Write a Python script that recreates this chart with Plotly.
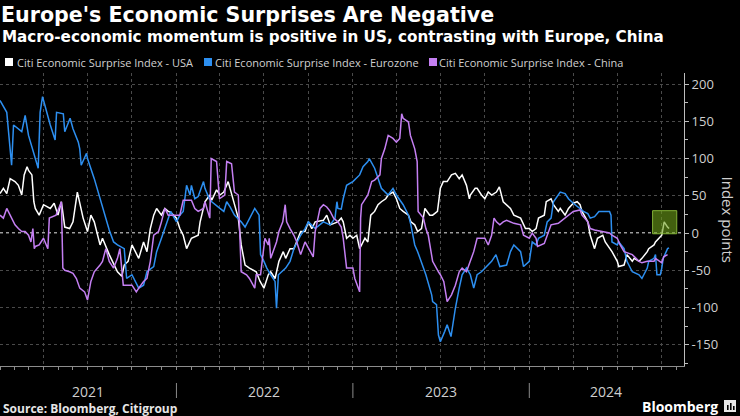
import plotly.graph_objects as go

# ---------------- data ----------------
usa_dates = [
    "2021-01-01","2021-01-08","2021-01-15","2021-01-22","2021-02-01","2021-02-08","2021-02-15","2021-02-20",
    "2021-02-26","2021-03-01","2021-03-08","2021-03-12","2021-03-15","2021-03-23","2021-04-01","2021-04-15",
    "2021-04-23","2021-05-01","2021-05-08","2021-05-15","2021-05-25","2021-06-01","2021-06-10","2021-06-15",
    "2021-06-22","2021-07-01","2021-07-08","2021-07-15","2021-07-27","2021-08-01","2021-08-15","2021-09-01",
    "2021-09-10","2021-09-15","2021-09-23","2021-10-01","2021-10-15","2021-10-25","2021-11-01","2021-11-08",
    "2021-11-15","2021-11-21","2021-12-01","2021-12-08","2021-12-15","2021-12-20","2022-01-01","2022-01-08",
    "2022-01-15","2022-01-22","2022-02-01","2022-02-15","2022-02-19","2022-03-01","2022-03-11","2022-03-15",
    "2022-03-25","2022-04-01","2022-04-09","2022-04-18","2022-05-01","2022-05-09","2022-05-15","2022-05-23",
    "2022-06-01","2022-06-15","2022-06-23","2022-07-01","2022-07-10","2022-07-15","2022-07-24","2022-08-01",
    "2022-08-10","2022-08-15","2022-08-24","2022-09-01","2022-09-15","2022-09-24","2022-10-01","2022-10-08",
    "2022-10-15","2022-11-01","2022-11-08","2022-11-15","2022-12-01","2022-12-08","2022-12-12","2022-12-19",
    "2022-12-26","2023-01-01","2023-01-09","2023-01-15","2023-01-19","2023-01-26","2023-02-01","2023-02-07",
    "2023-02-15","2023-02-22","2023-03-01","2023-03-10","2023-03-15","2023-03-25","2023-04-01","2023-04-08",
    "2023-04-15","2023-04-26","2023-05-01","2023-05-09","2023-05-15","2023-05-23","2023-05-30","2023-06-09",
    "2023-06-15","2023-06-25","2023-07-01","2023-07-07","2023-07-15","2023-07-24","2023-08-01","2023-08-09",
    "2023-08-15","2023-08-24","2023-08-30","2023-09-01","2023-09-11","2023-09-15","2023-09-24","2023-10-01",
    "2023-10-08","2023-10-15","2023-10-25","2023-10-31","2023-11-08","2023-11-15","2023-11-23","2023-11-30",
    "2023-12-14","2023-12-24","2024-01-01","2024-01-07","2024-01-15","2024-01-20","2024-02-01","2024-02-05",
    "2024-02-15","2024-02-20","2024-03-01","2024-03-05","2024-03-15","2024-03-22","2024-04-01","2024-04-09",
    "2024-04-15","2024-04-19","2024-05-01","2024-05-06","2024-05-15","2024-05-21","2024-06-01","2024-06-06",
    "2024-06-15","2024-06-20","2024-07-01","2024-07-04","2024-07-15","2024-07-21","2024-08-01","2024-08-05",
    "2024-08-15","2024-08-21","2024-09-01","2024-09-04","2024-09-15","2024-09-18","2024-10-01","2024-10-06",
    "2024-10-13","2024-10-16",
]
usa_vals = [
    53, 60, 53, 73, 69, 64, 51, 78,
    89, 84, 78, 42, 33, 24, 38, 33,
    40, 24, 42, 8, 6, 15, 55, 42,
    20, 2, 24, 15, -16, -7, -29, -52,
    -58, -43, -38, -16, -34, -12, -25, 6,
    24, 33, 24, 33, 29, 28, 20, 6,
    -3, -21, -7, -3, 15, 42, 51, 44,
    58, 51, 55, 69, 38, 20, -16, -43,
    -47, -52, -65, -74, -56, -52, -61, -38,
    -25, -34, -21, -21, 2, 2, 15, 6,
    15, 17, 24, 11, 15, 20, 15, -7,
    -3, -7, -3, -21, -16, -7, -12, 24,
    29, 38, 42, 46, 51, 55, 46, 33,
    29, 24, 15, 11, 2, 6, 33, 24,
    24, 29, 60, 69, 69, 78, 80, 73,
    78, 64, 46, 51, 60, 60, 51, 46,
    55, 51, 55, 62, 42, 38, 33, 24,
    20, 6, 6, 2, 6, 20, 24, 42,
    46, 38, 29, 33, 24, 33, 40, 42,
    38, 29, 15, -3, -21, -7, -3, -12,
    -21, -25, -38, -45, -43, -29, -38, -34,
    -38, -34, -25, -21, -16, -12, -3, 15,
    8, 6,
]

ez_dates = [
    "2021-01-01","2021-01-15","2021-01-25","2021-01-29","2021-02-15","2021-02-22","2021-03-01","2021-03-11",
    "2021-03-21","2021-03-25","2021-03-30","2021-04-15","2021-04-25","2021-04-28","2021-05-12","2021-05-15",
    "2021-05-26","2021-06-01","2021-06-12","2021-06-15","2021-06-18","2021-06-29","2021-07-01","2021-07-15",
    "2021-07-27","2021-08-01","2021-08-10","2021-08-15","2021-08-24","2021-09-01","2021-09-15","2021-09-20",
    "2021-10-01","2021-10-15","2021-10-25","2021-11-01","2021-11-15","2021-11-21","2021-12-01","2021-12-15",
    "2021-12-20","2022-01-01","2022-01-08","2022-01-15","2022-01-22","2022-01-29","2022-02-01","2022-02-08",
    "2022-02-15","2022-02-26","2022-03-01","2022-03-10","2022-03-15","2022-04-01","2022-04-09","2022-04-15",
    "2022-04-22","2022-05-01","2022-05-15","2022-05-23","2022-06-01","2022-06-12","2022-06-21","2022-06-24",
    "2022-07-01","2022-07-07","2022-07-15","2022-07-24","2022-07-27","2022-07-31","2022-08-15","2022-08-24",
    "2022-09-01","2022-09-15","2022-09-24","2022-10-01","2022-10-15","2022-10-25","2022-11-01","2022-11-15",
    "2022-11-25","2022-11-29","2022-12-01","2022-12-08","2022-12-12","2022-12-19","2023-01-01","2023-01-15",
    "2023-01-22","2023-02-01","2023-02-04","2023-02-15","2023-02-22","2023-03-01","2023-03-15","2023-03-25",
    "2023-04-01","2023-04-15","2023-04-26","2023-05-01","2023-05-09","2023-05-15","2023-06-01","2023-06-13",
    "2023-06-15","2023-06-23","2023-06-27","2023-07-01","2023-07-10","2023-07-15","2023-07-23","2023-08-01",
    "2023-08-09","2023-08-15","2023-08-24","2023-09-01","2023-09-08","2023-09-15","2023-09-24","2023-10-01",
    "2023-10-08","2023-10-15","2023-10-24","2023-11-01","2023-11-15","2023-11-23","2023-11-30","2023-12-14",
    "2023-12-20","2024-01-01","2024-01-07","2024-01-15","2024-01-20","2024-02-01","2024-02-07","2024-02-15",
    "2024-02-20","2024-03-01","2024-03-05","2024-03-15","2024-03-22","2024-04-01","2024-04-15","2024-04-22",
    "2024-05-01","2024-05-06","2024-05-15","2024-05-24","2024-06-15","2024-06-18","2024-06-20","2024-07-01",
    "2024-07-04","2024-07-15","2024-07-21","2024-08-01","2024-08-15","2024-08-21","2024-09-01","2024-09-04",
    "2024-09-15","2024-09-18","2024-09-21","2024-09-28","2024-10-01","2024-10-04","2024-10-13","2024-10-16",
]
ez_vals = [
    178, 162, 91, 145, 136, 158, 131, 109,
    87, 162, 183, 145, 125, 162, 160, 136,
    154, 140, 122, 113, 91, 107, 100, 73,
    46, 33, 15, 4, -12, -16, -21, -61,
    -56, -74, -70, -52, -45, -25, -7, 20,
    29, 15, 24, 29, 64, 51, 64, 46,
    49, 69, 60, 46, 42, 33, 29, 42,
    35, 24, 15, 8, 20, 33, 24, -29,
    -38, -47, -56, -65, -101, -56, -47, -38,
    -21, -3, 6, 15, 6, 11, 15, 11,
    20, 42, 33, 32, 46, 64, 69, 78,
    89, 96, 100, 87, 73, 60, 51, 60,
    51, 38, 24, 11, -16, -25, -56, -83,
    -92, -96, -137, -146, -132, -123, -139, -101,
    -74, -56, -47, -56, -74, -56, -52, -47,
    -43, -38, -29, -45, -43, -25, -16, -25,
    -45, -38, -12, -16, -7, -3, 15, 20,
    42, 51, 55, 53, 46, 40, 33, 29,
    26, 20, 22, 29, 29, 24, -12, -16,
    -12, -21, -38, -52, -56, -61, -47, -38,
    -34, -29, -56, -56, -47, -34, -21, -20,
]

cn_dates = [
    "2021-01-01","2021-01-08","2021-01-15","2021-01-22","2021-02-01","2021-02-08","2021-02-15","2021-02-22",
    "2021-03-01","2021-03-06","2021-03-10","2021-03-13","2021-03-15","2021-03-23","2021-04-01","2021-04-10",
    "2021-04-13","2021-04-27","2021-05-08","2021-05-11","2021-05-15","2021-05-25","2021-06-01","2021-06-08",
    "2021-06-15","2021-06-25","2021-07-01","2021-07-08","2021-07-15","2021-07-27","2021-08-01","2021-08-08",
    "2021-08-15","2021-08-24","2021-09-01","2021-09-06","2021-09-13","2021-10-01","2021-10-10","2021-10-15",
    "2021-10-25","2021-11-01","2021-11-08","2021-11-15","2021-11-25","2021-12-01","2021-12-08","2021-12-15",
    "2022-01-08","2022-01-15","2022-02-01","2022-02-08","2022-02-15","2022-02-26","2022-03-01","2022-03-11",
    "2022-03-14","2022-03-25","2022-03-31","2022-04-11","2022-04-15","2022-04-25","2022-05-01","2022-05-09",
    "2022-05-15","2022-05-26","2022-06-01","2022-06-12","2022-06-15","2022-06-24","2022-07-03","2022-07-10",
    "2022-07-12","2022-07-15","2022-07-27","2022-08-01","2022-08-09","2022-08-14","2022-08-17","2022-08-24",
    "2022-09-01","2022-09-07","2022-09-15","2022-09-24","2022-10-01","2022-10-11","2022-10-15","2022-10-25",
    "2022-11-01","2022-11-08","2022-11-15","2022-11-22","2022-12-01","2022-12-08","2022-12-12","2022-12-19",
    "2023-01-01","2023-01-05","2023-01-15","2023-01-17","2023-01-19","2023-02-01","2023-02-09","2023-02-15",
    "2023-02-26","2023-03-01","2023-03-08","2023-03-15","2023-03-25","2023-04-01","2023-04-08","2023-04-12",
    "2023-04-15","2023-04-26","2023-04-30","2023-05-09","2023-05-14","2023-05-16","2023-05-27","2023-06-01",
    "2023-06-06","2023-06-15","2023-06-27","2023-07-01","2023-07-08","2023-07-15","2023-07-24","2023-08-01",
    "2023-08-09","2023-08-15","2023-08-24","2023-09-01","2023-09-08","2023-09-15","2023-10-01","2023-10-08",
    "2023-10-15","2023-10-20","2023-10-25","2023-11-01","2023-11-08","2023-11-15","2023-11-23","2023-11-30",
    "2023-12-14","2023-12-20","2024-01-01","2024-01-07","2024-01-15","2024-01-18","2024-02-01","2024-02-07",
    "2024-02-15","2024-03-01","2024-03-05","2024-03-15","2024-03-22","2024-04-01","2024-04-15","2024-04-19",
    "2024-05-01","2024-05-06","2024-05-15","2024-06-01","2024-06-15","2024-06-20","2024-07-01","2024-07-07",
    "2024-07-15","2024-08-01","2024-08-15","2024-08-21","2024-09-01","2024-09-15","2024-09-18","2024-10-01",
    "2024-10-05","2024-10-13",
]
cn_vals = [
    24, 20, 33, 24, 11, 6, 2, 2,
    -3, -12, 6, -21, -18, -16, -7, -21,
    20, 24, 42, -47, -50, -52, -54, -61,
    -74, -79, -90, -65, -52, -43, -38, -21,
    -38, -47, -34, -21, -70, -70, -79, -74,
    -65, -61, -38, -3, 2, 15, 33, 24,
    24, 44, 44, 33, 29, 33, 42, 20,
    100, 96, 46, 51, 96, 93, 55, 51,
    -52, -56, -61, -74, -56, -56, -7, -16,
    -7, -34, -12, 2, 15, 38, 15, 6,
    -3, -12, -29, -12, -21, -32, 2, 33,
    38, 35, 29, 20, 15, 8, -7, -47,
    -47, -61, -79, 20, 38, 51, 69, 71,
    78, 100, 113, 131, 127, 122, 127, 160,
    154, 149, 131, 113, 96, 29, 20, 6,
    -3, -38, -52, -56, -65, -92, -83, -70,
    -52, -47, -52, -38, -25, -7, -7, -16,
    -3, 20, 15, 11, 15, 17, 15, 13,
    11, -3, -7, 0, -7, -18, -14, -3,
    11, 13, 15, 20, 24, 29, 31, 24,
    15, 6, 4, 2, 0, -3, -7, -16,
    -25, -29, -38, -40, -38, -38, -34, -40,
    -32, -29,
]

series_names = [
    "Citi Economic Surprise Index - USA",
    "Citi Economic Surprise Index - Eurozone",
    "Citi Economic Surprise Index - China",
]
series_colors = ["#ffffff", "#2d8ff0", "#c47ff2"]

x_range = ["2021-01-01", "2024-11-16"]
y_range = [-178.5, 214.8]
y_tickvals = [-150, -100, -50, 0, 50, 100, 150, 200]
y_ticktext = ["-150", "-100", "-50", "0", "50", "100", "150", "200"]
y_minor_vals = [-175, -125, -75, -25, 25, 75, 125, 175]
year_labels = ["2021", "2022", "2023", "2024"]
year_label_dates = ["2021-07-02", "2022-07-02", "2023-07-02", "2024-06-08"]
year_breaks = ["2022-01-01", "2023-01-01", "2024-01-01"]
highlight_x = ["2024-09-12", "2024-11-01"]
highlight_y = [-1, 30]

title_text = "Europe's Economic Surprises Are Negative"
subtitle_text = "Macro-economic momentum is positive in US, contrasting with Europe, China"
source_text = "Source: Bloomberg, Citigroup"

# ---------------- figure ----------------
W, H = 740, 416
L, R, T, B = 0, 56, 73, 50
PW, PH = W - L - R, H - T - B


def px_x(px):
    return (px - L) / PW


def px_y(py):
    return (H - B - py) / PH


FONT = "Open Sans"
HEAD = "DejaVu Sans"
fig = go.Figure()
for d, v, name, c in zip([usa_dates, ez_dates, cn_dates], [usa_vals, ez_vals, cn_vals],
                         series_names, series_colors):
    fig.add_trace(go.Scatter(x=d, y=v, mode="lines", name=name,
                             line=dict(color=c, width=1.5), showlegend=False,
                             hoverinfo="skip"))

shapes = []
shapes.append(dict(type="line", xref="paper", yref="y", x0=0, x1=1, y0=0, y1=0,
                   line=dict(color="#d0d0d0", width=1.5, dash="dot"), layer="below"))
shapes.append(dict(type="rect", xref="x", yref="y", x0=highlight_x[0], x1=highlight_x[1],
                   y0=highlight_y[0], y1=highlight_y[1],
                   fillcolor="rgba(110,160,25,0.6)", line=dict(color="rgba(140,190,60,0.9)", width=1),
                   layer="above"))
for yb in year_breaks:
    shapes.append(dict(type="line", xref="x", yref="paper", x0=yb, x1=yb,
                       y0=px_y(383), y1=px_y(398), line=dict(color="#8a8a8a", width=1)))
legend_sq_x = [5, 204, 429]
for sx, c in zip(legend_sq_x, series_colors):
    shapes.append(dict(type="rect", xref="paper", yref="paper",
                       x0=px_x(sx), x1=px_x(sx + 8), y0=px_y(66), y1=px_y(58),
                       fillcolor=c, line=dict(width=0)))
shapes.append(dict(type="rect", xref="paper", yref="paper",
                   x0=px_x(724), x1=px_x(736), y0=px_y(412), y1=px_y(400),
                   fillcolor="#e8e8e8", line=dict(width=0)))
for bx, top in [(727, 405), (730, 403), (733, 406)]:
    shapes.append(dict(type="rect", xref="paper", yref="paper",
                       x0=px_x(bx), x1=px_x(bx + 1.6), y0=px_y(410), y1=px_y(top),
                       fillcolor="#000000", line=dict(width=0)))

annotations = []
annotations.append(dict(text="<b>" + subtitle_text + "</b>", xref="paper", yref="paper",
                        x=px_x(0), y=px_y(37), xanchor="left", yanchor="middle", showarrow=False,
                        font=dict(family=HEAD, size=15.2, color="#ffffff")))
legend_txt_x = [15, 213, 437]
for tx, name in zip(legend_txt_x, series_names):
    annotations.append(dict(text=name, xref="paper", yref="paper", x=px_x(tx), y=px_y(62),
                            xanchor="left", yanchor="middle", showarrow=False,
                            font=dict(family=FONT, size=11, color="#d0d0d0")))
for lab, d in zip(year_labels, year_label_dates):
    annotations.append(dict(text=lab, xref="x", yref="paper", x=d, y=px_y(391),
                            xanchor="center", yanchor="middle", showarrow=False,
                            font=dict(family=FONT, size=14, color="#cfcfcf")))
annotations.append(dict(text="Index points", xref="paper", yref="paper", x=px_x(728), y=0.5,
                        xanchor="center", yanchor="middle", showarrow=False, textangle=90,
                        font=dict(family=FONT, size=15, color="#cfcfcf")))
annotations.append(dict(text="<b>" + source_text + "</b>", xref="paper", yref="paper",
                        x=px_x(1), y=px_y(408), xanchor="left", yanchor="middle", showarrow=False,
                        font=dict(family=FONT, size=12, color="#e6e6e6")))
annotations.append(dict(text="<b>Bloomberg</b>", xref="paper", yref="paper",
                        x=px_x(720), y=px_y(406), xanchor="right", yanchor="middle", showarrow=False,
                        font=dict(family=FONT, size=14, color="#ffffff")))

fig.update_layout(
    width=W, height=H,
    paper_bgcolor="#000000", plot_bgcolor="#000000",
    margin=dict(l=L, r=R, t=T, b=B, pad=0),
    showlegend=False,
    font=dict(family=FONT, color="#cfcfcf"),
    title=dict(text="<b>" + title_text + "</b>", x=1 / W, xanchor="left", xref="container",
               y=1 - 15 / H, yanchor="middle", yref="container",
               font=dict(family=HEAD, size=20.6, color="#ffffff")),
    xaxis=dict(type="date", range=x_range, showline=True, linecolor="#8c8c8c", linewidth=1,
               ticks="outside", ticklen=3, tickcolor="#8c8c8c", tickwidth=1,
               tick0="2021-01-01", dtick="M3", showticklabels=False,
               showgrid=True, gridcolor="#4a4a4a", griddash="dot", gridwidth=1,
               zeroline=False, fixedrange=True,
               minor=dict(dtick="M1", tick0="2021-01-01", ticks="outside", ticklen=3,
                          tickcolor="#8c8c8c", showgrid=False)),
    yaxis=dict(side="right", range=y_range, tickmode="array", tickvals=y_tickvals,
               ticktext=y_ticktext, showgrid=True, gridcolor="#4a4a4a", griddash="dot",
               gridwidth=1, zeroline=False, showline=True, linecolor="#bdbdbd", linewidth=1,
               ticks="outside", ticklen=4, tickcolor="#bdbdbd",
               tickfont=dict(family=FONT, size=13, color="#cfcfcf"), fixedrange=True,
               minor=dict(tickmode="array", tickvals=y_minor_vals, ticks="outside", ticklen=3,
                          tickcolor="#bdbdbd", showgrid=False)),
    shapes=shapes,
    annotations=annotations,
)

fig.write_html("out.html")
